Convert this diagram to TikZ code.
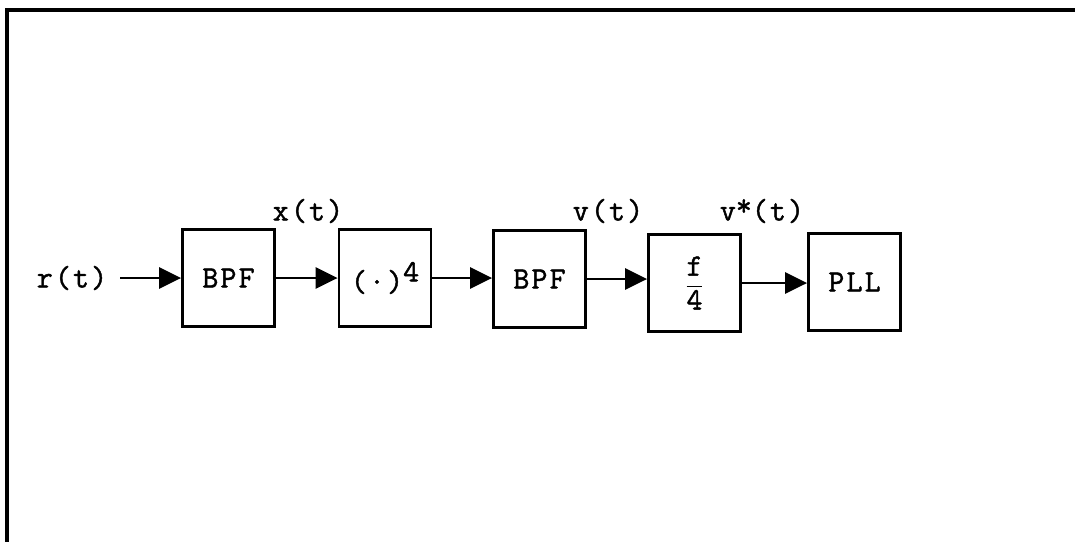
\documentclass[tikz,border=0pt]{standalone}
\usepackage{fontspec}
\setmonofont[FakeBold=1.5,LetterSpace=7]{Latin Modern Mono}
\usetikzlibrary{arrows.meta}
\begin{document}
\begin{tikzpicture}[x=1pt,y=-1pt,
  txt/.style={font=\ttfamily\fontsize{31}{33}\selectfont},
  blk/.style={txt,draw,line width=2.8pt,minimum width=92pt,minimum height=97pt,inner sep=0pt},
  lbl/.style={txt,inner sep=0pt},
  conn/.style={line width=2.8pt,-{Triangle[length=22pt,width=21pt]}}]
\useasboundingbox (0,0) rectangle (1075,541);
\clip (0,0) rectangle (1075,541);
\fill[white] (0,0) rectangle (1075,541);
\draw[line width=3.5pt] (7,560) -- (7,10) -- (1090,10);
\node[blk] (b1) at (228.5,278) {BPF};
\node[blk] (b2) at (385,278) {(·)\raisebox{10pt}{4}};
\node[blk] (b3) at (539.5,279) {BPF};
\node[blk] (b4) at (694.5,283) {$\displaystyle\frac{\mbox{f}}{\mbox{4}}$};
\node[blk] (b5) at (854.5,282) {PLL};
\coordinate (in) at (120,278);
\node[lbl] (r) at (72,278) {r(t)};
\node[lbl] (x) at (308,211) {x(t)};
\node[lbl] (v) at (608,211) {v(t)};
\node[lbl] (vs) at (762,211) {v\raisebox{5pt}{*}(t)};
\draw[conn] (in) -- (b1.west);
\draw[conn] (b1.east) -- (b1.east -| b2.west);
\draw[conn] (b2.east) -- (b2.east -| b3.west);
\draw[conn] (b3.east) -- (b3.east -| b4.west);
\draw[conn] (b4.east) -- (b4.east -| b5.west);
\end{tikzpicture}
\end{document}
